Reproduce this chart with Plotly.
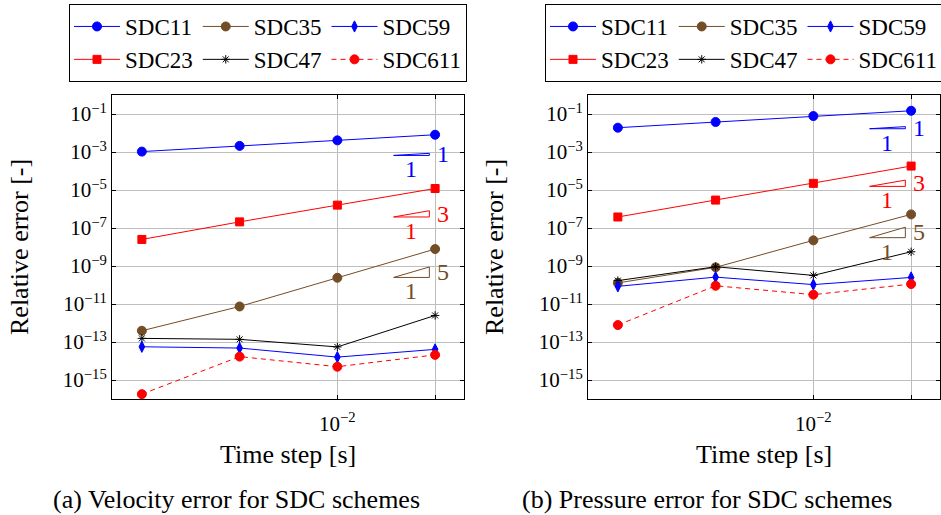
import numpy as np
import plotly.graph_objects as go

W, H = 941, 515
FONT = "Liberation Serif"

# ---------------- data ----------------
dt = [0.0025, 0.005, 0.01, 0.02]
series_names = ["SDC11", "SDC23", "SDC35", "SDC47", "SDC59", "SDC611"]

vel_sdc11 = [1.05e-3, 2.1e-3, 4.1e-3, 8.1e-3]
vel_sdc23 = [2.5e-8, 2.1e-7, 1.6e-6, 1.2e-5]
vel_sdc35 = [3.9e-13, 7.4e-12, 2.4e-10, 7.8e-9]
vel_sdc47 = [1.55e-13, 1.38e-13, 5.5e-14, 2.5e-12]
vel_sdc59 = [5.6e-14, 4.8e-14, 1.6e-14, 4.1e-14]
vel_sdc611 = [1.8e-16, 1.7e-14, 5.0e-15, 2.1e-14]

pre_sdc11 = [1.9e-2, 3.8e-2, 7.8e-2, 1.48e-1]
pre_sdc23 = [3.8e-7, 2.95e-6, 2.24e-5, 1.82e-4]
pre_sdc35 = [1.29e-10, 8.5e-10, 2.24e-8, 5.2e-7]
pre_sdc47 = [1.7e-10, 9.1e-10, 3.2e-10, 5.6e-9]
pre_sdc59 = [8.5e-11, 2.6e-10, 1.05e-10, 2.5e-10]
pre_sdc611 = [7.8e-13, 9.1e-11, 3.1e-11, 1.12e-10]

# slope triangles: x start/end, bottom value, slope
tri_x0, tri_x1 = 0.0149, 0.0192
tri_slopes = [1, 3, 5]
vel_tri_bottom = [6.6e-4, 3.8e-7, 2.5e-10]
pre_tri_bottom = [1.68e-2, 1.55e-5, 3.1e-8]

y_tickvals = [1e-1, 1e-3, 1e-5, 1e-7, 1e-9, 1e-11, 1e-13, 1e-15]
y_ticktext = ["10<sup>−1</sup>", "10<sup>−3</sup>", "10<sup>−5</sup>", "10<sup>−7</sup>",
              "10<sup>−9</sup>", "10<sup>−11</sup>", "10<sup>−13</sup>", "10<sup>−15</sup>"]
x_tickvals = [0.01, 0.02]
x_ticktext = ["10<sup>−2</sup>", ""]

captions = ["(a) Velocity error for SDC schemes", "(b) Pressure error for SDC schemes"]
xtitle = "Time step [s]"
ytitle = "Relative error [-]"

# ---------------- styles ----------------
BLUE = "rgb(0,0,255)"
RED = "rgb(255,0,0)"
BROWN = "rgb(115,77,38)"
BLACK = "rgb(0,0,0)"
styles = {
    "SDC11": dict(color=BLUE, symbol="circle", size=9, dash="solid", group="c1"),
    "SDC23": dict(color=RED, symbol="square", size=8, dash="solid", group="c1"),
    "SDC35": dict(color=BROWN, symbol="circle", size=9, dash="solid", group="c2"),
    "SDC47": dict(color=BLACK, symbol="asterisk-open", size=7, dash="solid", group="c2"),
    "SDC59": dict(color=BLUE, symbol="diamond-tall", size=8, dash="solid", group="c3"),
    "SDC611": dict(color=RED, symbol="circle", size=9, dash="5px,4px", group="c3"),
}
tri_colors = [BLUE, RED, BROWN]


def px_x(p):
    return p / W


def px_y(p):
    return 1 - p / H


fig = go.Figure()

panels = [
    dict(data=[vel_sdc11, vel_sdc23, vel_sdc35, vel_sdc47, vel_sdc59, vel_sdc611],
         xa="x", ya="y", legend="legend", tri=vel_tri_bottom),
    dict(data=[pre_sdc11, pre_sdc23, pre_sdc35, pre_sdc47, pre_sdc59, pre_sdc611],
         xa="x2", ya="y2", legend="legend2", tri=pre_tri_bottom),
]

annotations = []
for p in panels:
    for name, vals in zip(series_names, p["data"]):
        s = styles[name]
        fig.add_trace(go.Scatter(
            x=dt, y=vals, name=name, mode="lines+markers",
            xaxis=p["xa"], yaxis=p["ya"], legend=p["legend"],
            legendgroup=s["group"],
            line=dict(color=s["color"], width=1, dash=s["dash"]),
            marker=dict(color=s["color"], symbol=s["symbol"], size=s["size"],
                        line=dict(color=s["color"], width=1)),
        ))
    for slope, yb, col in zip(tri_slopes, p["tri"], tri_colors):
        ytop = yb * (tri_x1 / tri_x0) ** slope
        fig.add_trace(go.Scatter(
            x=[tri_x0, tri_x1, tri_x1, tri_x0], y=[yb, yb, ytop, yb],
            mode="lines", line=dict(color=col, width=1), showlegend=False,
            hoverinfo="skip", xaxis=p["xa"], yaxis=p["ya"],
        ))
        annotations.append(dict(
            x=np.log10(tri_x1), y=(np.log10(yb) + np.log10(ytop)) / 2,
            xref=p["xa"], yref=p["ya"], text=str(slope), showarrow=False,
            xanchor="left", yanchor="middle", xshift=6,
            font=dict(family=FONT, size=24, color=col)))
        annotations.append(dict(
            x=(np.log10(tri_x0) + np.log10(tri_x1)) / 2, y=np.log10(yb),
            xref=p["xa"], yref=p["ya"], text="1", showarrow=False,
            xanchor="center", yanchor="middle", yshift=-14,
            font=dict(family=FONT, size=24, color=col)))

# axis titles & captions
for i, (cx, capx) in enumerate([(288, 236), (764, 707)]):
    annotations.append(dict(x=px_x(cx), y=px_y(454), xref="paper", yref="paper",
                            text=xtitle, showarrow=False, xanchor="center", yanchor="middle",
                            font=dict(family=FONT, size=26, color="black")))
    annotations.append(dict(x=px_x(capx), y=px_y(499), xref="paper", yref="paper",
                            text=captions[i], showarrow=False,
                            xanchor="center", yanchor="middle",
                            font=dict(family=FONT, size=26, color="black")))
for tx in [20, 495]:
    annotations.append(dict(x=px_x(tx), y=px_y(247), xref="paper", yref="paper",
                            text=ytitle, showarrow=False, textangle=-90,
                            xanchor="center", yanchor="middle",
                            font=dict(family=FONT, size=26, color="black")))

xrange_log = [-2.694, -1.610]
yrange_log = [-16, 0]
y_dom = [px_y(399), px_y(95)]

common_x = dict(type="log", range=xrange_log, tickvals=x_tickvals, ticktext=x_ticktext,
                showgrid=True, gridcolor="rgb(190,190,190)", gridwidth=1,
                showline=True, linecolor="black", linewidth=1, mirror="allticks",
                ticks="inside", ticklen=4, tickcolor="black", zeroline=False,
                ticklabelstandoff=6,
                tickfont=dict(family=FONT, size=21, color="black"))
common_y = dict(type="log", range=yrange_log, tickvals=y_tickvals, ticktext=y_ticktext,
                showgrid=True, gridcolor="rgb(190,190,190)", gridwidth=1,
                showline=True, linecolor="black", linewidth=1, mirror="allticks",
                ticks="inside", ticklen=4, tickcolor="black", zeroline=False,
                tickfont=dict(family=FONT, size=21, color="black"), domain=y_dom)

legend_common = dict(orientation="h", traceorder="grouped", xref="container", yref="container",
                     xanchor="left", yanchor="top", bgcolor="white", bordercolor="black",
                     borderwidth=1, itemwidth=46, tracegroupgap=0,
                     font=dict(family=FONT, size=23, color="black"))

fig.update_layout(
    width=W, height=H, margin=dict(l=0, r=0, t=0, b=0, autoexpand=False),
    paper_bgcolor="white", plot_bgcolor="white",
    font=dict(family=FONT),
    xaxis=dict(common_x, domain=[px_x(112), px_x(464)], anchor="y"),
    yaxis=dict(common_y, anchor="x"),
    xaxis2=dict(common_x, domain=[px_x(588), px_x(940)], anchor="y2"),
    yaxis2=dict(common_y, anchor="x2"),
    legend=dict(legend_common, x=px_x(69), y=1 - 4 / H),
    legend2=dict(legend_common, x=px_x(545), y=1 - 4 / H),
    annotations=annotations,
    showlegend=True,
)

fig.write_html("out.html")
